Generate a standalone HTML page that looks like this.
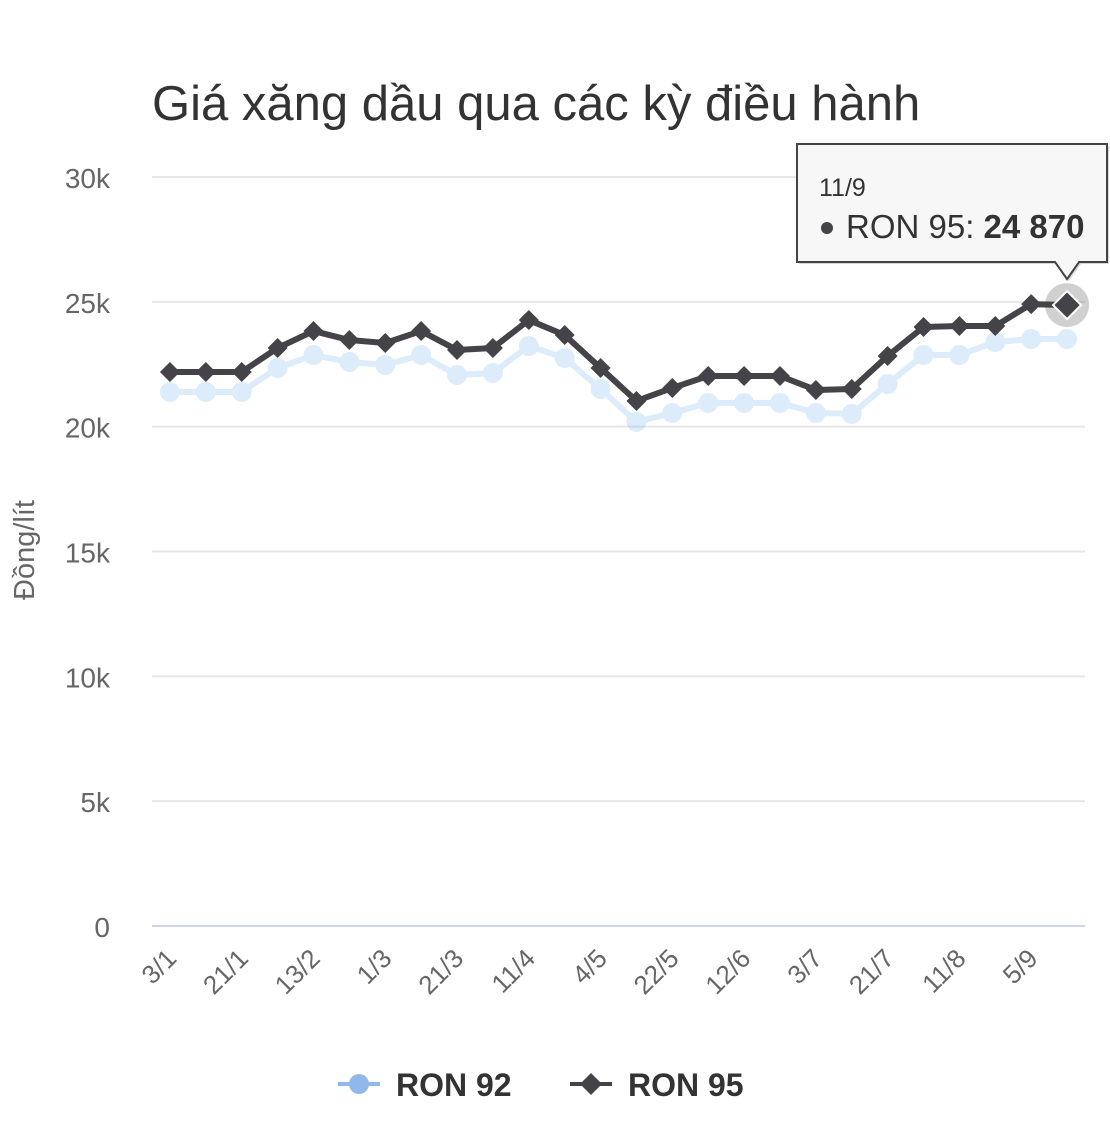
<!DOCTYPE html>
<html><head><meta charset="utf-8">
<style>
html,body{margin:0;padding:0;background:#fff;}
svg{display:block;font-family:"Liberation Sans","DejaVu Sans",sans-serif;}
</style></head>
<body>
<svg id="chart" width="1110" height="1124" viewBox="0 0 1110 1124">
<text x="152" y="120" font-size="49" fill="#333">Giá xăng dầu qua các kỳ điều hành</text>
<text transform="translate(34,550) rotate(-90)" text-anchor="middle" font-size="29" fill="#666">Đồng/lít</text>
<g id="grid"></g>
<g id="yticks"></g>
<g id="xticks"></g>
<g id="series"></g>
<g id="tooltip"></g>
<g>
  <g>
    <line x1="338" y1="1084" x2="380" y2="1084" stroke="#90b8ea" stroke-width="4"/>
    <circle cx="359" cy="1084" r="10" fill="#90b8ea"/>
    <text x="396" y="1096" font-size="32" font-weight="bold" fill="#333">RON 92</text>
  </g>
  <g>
    <line x1="570" y1="1084" x2="612" y2="1084" stroke="#434348" stroke-width="4"/>
    <path d="M591 1073 L602 1084 L591 1095 L580 1084 Z" fill="#434348"/>
    <text x="628" y="1096" font-size="32" font-weight="bold" fill="#333">RON 95</text>
  </g>
</g>
</svg>
<script>
const categories = ["3/1","11/1","21/1","1/2","13/2","21/2","1/3","11/3","21/3","1/4","11/4","21/4","4/5","11/5","22/5","1/6","12/6","22/6","3/7","11/7","21/7","1/8","11/8","22/8","5/9","11/9"];
const ron92 = [21390,21390,21390,22350,22870,22590,22470,22870,22070,22150,23230,22750,21510,20190,20550,20950,20950,20950,20550,20510,21710,22870,22870,23390,23510,23510];
const ron95 = [22190,22190,22190,23150,23830,23470,23350,23830,23070,23150,24270,23670,22350,21030,21550,22030,22030,22030,21470,21510,22830,23990,24030,24030,24910,24870];
const yTicks = [0,5000,10000,15000,20000,25000,30000];
const yTickLabels = ["0","5k","10k","15k","20k","25k","30k"];

const NS="http://www.w3.org/2000/svg";
const L=152,R=1085,T=177,B=926,yMax=30000;
const bw=(R-L)/categories.length;
const xs=i=>L+bw*(i+0.5);
const ys=v=>B-(v/yMax)*(B-T);
function mk(tag,attrs,parent){const e=document.createElementNS(NS,tag);for(const k in attrs)e.setAttribute(k,attrs[k]);parent.appendChild(e);return e;}

const grid=document.getElementById('grid'),yt=document.getElementById('yticks');
yTicks.forEach((v,i)=>{
  const ln=mk('line',{x1:L,x2:R,y1:ys(v),y2:ys(v),stroke:v===0?'#ccd6eb':'#e6e6e6','stroke-width':2},grid);
  
  
  const t=mk('text',{x:110,y:ys(v)+11,'text-anchor':'end','font-size':28,fill:'#666'},yt);
  t.textContent=yTickLabels[i];
  
  
});
const xt=document.getElementById('xticks');
categories.forEach((c,i)=>{
  if(i%2)return;
  const x=xs(i)+8,y=960;
  const t=mk('text',{x:x,y:y,'text-anchor':'end','font-size':26,fill:'#666',transform:`rotate(-45 ${x} ${y})`},xt);
  t.textContent=c;
  
  
});
const sg=document.getElementById('series');
const g92=mk('g',{opacity:0.25},sg);


const p92=mk('polyline',{points:ron92.map((v,i)=>xs(i)+','+ys(v)).join(' '),fill:'none',stroke:'#7cb5ec','stroke-width':6,'stroke-linejoin':'round'},g92);


ron92.forEach((v,i)=>{
  const c=mk('circle',{cx:xs(i),cy:ys(v),r:10,fill:'#7cb5ec'},g92);
  
  
});
const g95=mk('g',{},sg);


const last=ron95.length-1;
const halo=mk('circle',{cx:xs(last),cy:ys(ron95[last]),r:22,fill:'#434348',opacity:0.25},g95);


const p95=mk('polyline',{points:ron95.map((v,i)=>xs(i)+','+ys(v)).join(' '),fill:'none',stroke:'#434348','stroke-width':6,'stroke-linejoin':'round'},g95);


ron95.forEach((v,i)=>{
  const x=xs(i),y=ys(v),s=i===last?14:10;
  const d=mk('path',{d:`M${x} ${y-s} L${x+s} ${y} L${x} ${y+s} L${x-s} ${y} Z`,fill:'#434348',stroke:i===last?'#fff':'none','stroke-width':2},g95);
  
  
});
const tg=document.getElementById('tooltip');


const tx=xs(last),ty=ys(ron95[last]);
mk('path',{d:`M797 144 H1107 V262 H${tx+12} L${tx} ${ty-26} L${tx-12} 262 H797 Z`,fill:'#000',opacity:0.15,transform:'translate(2,2)'},tg);
mk('path',{d:`M797 144 H1107 V262 H${tx+12} L${tx} ${ty-26} L${tx-12} 262 H797 Z`,fill:'#f7f7f7',stroke:'#434348','stroke-width':2},tg);
const t1=mk('text',{x:819,y:196,'font-size':25,fill:'#333'},tg);t1.textContent=categories[last];
mk('circle',{cx:827,cy:228,r:6,fill:'#434348'},tg);
const t2=mk('text',{x:846,y:238,'font-size':33,fill:'#333'},tg);
t2.innerHTML='RON 95: <tspan font-weight="bold">'+ron95[last].toLocaleString('en-US').replace(',',' ')+'</tspan>';
</script>
</body></html>
